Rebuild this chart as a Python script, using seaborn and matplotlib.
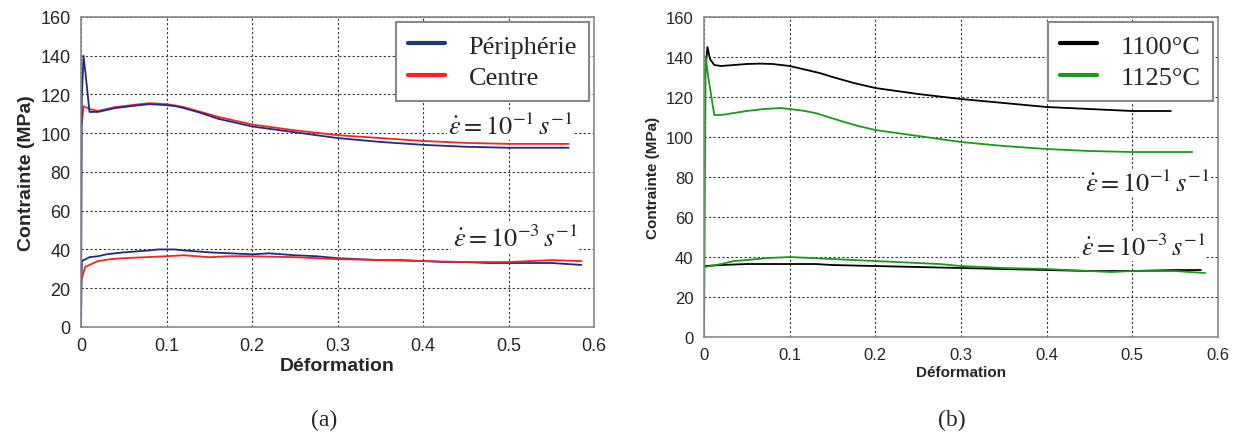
import numpy as np
import pandas as pd
import matplotlib
matplotlib.use("Agg")
import matplotlib.pyplot as plt
from matplotlib.lines import Line2D
import seaborn as sns

# panel (a) : Périphérie / Centre
a_peri_fast_x = [0.0, 0.001, 0.003, 0.006, 0.01, 0.02, 0.03, 0.04, 0.05, 0.065, 0.08, 0.1, 0.11, 0.12, 0.14, 0.16, 0.18, 0.2, 0.225, 0.25, 0.3, 0.35, 0.4, 0.45, 0.5, 0.57]
a_peri_fast_y = [0, 118, 140, 128, 111, 111, 112, 113, 113.5, 114.3, 115, 114.5, 114, 113, 110.5, 107.5, 105.5, 103.5, 102, 100.5, 97.5, 95.5, 94, 93, 92.5, 92.5]
a_cent_fast_x = [0.001, 0.003, 0.01, 0.02, 0.03, 0.04, 0.05, 0.065, 0.08, 0.1, 0.11, 0.12, 0.14, 0.16, 0.18, 0.2, 0.225, 0.25, 0.3, 0.35, 0.4, 0.45, 0.5, 0.57]
a_cent_fast_y = [105, 114, 112.5, 111.5, 112.5, 113.5, 114, 114.8, 115.5, 115, 114.3, 113.5, 111, 108.5, 106.5, 104.5, 103, 101.5, 99, 97.5, 96, 95, 94.5, 94.5]
a_peri_slow_x = [0.0, 0.001, 0.01, 0.02, 0.03, 0.04, 0.05, 0.065, 0.08, 0.09, 0.1, 0.11, 0.12, 0.135, 0.15, 0.175, 0.2, 0.22, 0.25, 0.275, 0.3, 0.325, 0.35, 0.375, 0.4, 0.425, 0.45, 0.475, 0.5, 0.525, 0.55, 0.585]
a_peri_slow_y = [0, 34, 36, 36.5, 37.5, 38, 38.5, 39, 39.5, 40, 40, 40, 39.5, 39, 38.5, 38, 37.5, 38, 37, 36.5, 35.5, 35, 34.5, 34.5, 34, 33.5, 33.5, 33, 33, 33, 33, 32]
a_cent_slow_x = [0.001, 0.005, 0.02, 0.035, 0.05, 0.075, 0.1, 0.12, 0.15, 0.175, 0.2, 0.25, 0.3, 0.35, 0.4, 0.45, 0.5, 0.55, 0.585]
a_cent_slow_y = [25, 31, 34, 35, 35.5, 36, 36.5, 37, 36, 36.5, 36.5, 36, 35, 34.5, 34, 33.5, 33.5, 34.5, 34]

# panel (b) : 1100°C / 1125°C
b_1100_fast_x = [0.001, 0.004, 0.007, 0.012, 0.02, 0.035, 0.05, 0.065, 0.08, 0.1, 0.11, 0.12, 0.135, 0.15, 0.175, 0.2, 0.225, 0.25, 0.3, 0.35, 0.4, 0.45, 0.5, 0.545]
b_1100_fast_y = [130, 145, 139, 136, 135.5, 136, 136.5, 136.7, 136.5, 135.5, 134.5, 133.5, 132, 130, 127, 124.5, 123, 121.5, 119, 117, 115, 114, 113, 113]
b_1125_fast_x = [0.0, 0.002, 0.005, 0.012, 0.02, 0.035, 0.05, 0.07, 0.09, 0.1, 0.115, 0.13, 0.16, 0.18, 0.2, 0.225, 0.25, 0.3, 0.35, 0.4, 0.45, 0.5, 0.57]
b_1125_fast_y = [0, 140, 130, 111, 111, 112, 113, 114, 114.5, 114, 113.2, 112, 108, 105.5, 103.5, 102, 100.5, 97.5, 95.5, 94, 93, 92.5, 92.5]
b_1100_slow_x = [0.001, 0.02, 0.05, 0.1, 0.13, 0.15, 0.2, 0.25, 0.3, 0.35, 0.4, 0.45, 0.5, 0.55, 0.58]
b_1100_slow_y = [35.5, 36, 36.5, 36.5, 36.5, 36, 35.5, 35, 34.5, 34, 33.5, 33, 33, 33.5, 33.5]
b_1125_slow_x = [0.001, 0.02, 0.035, 0.05, 0.075, 0.1, 0.125, 0.15, 0.175, 0.2, 0.225, 0.25, 0.275, 0.3, 0.35, 0.4, 0.45, 0.475, 0.5, 0.55, 0.585]
b_1125_slow_y = [35, 36.5, 38, 38.5, 39.5, 40, 39.5, 39, 38.5, 38, 37.5, 37, 36.5, 35.5, 34.5, 34, 33, 32.5, 33, 33, 32]

xticks = [0, 0.1, 0.2, 0.3, 0.4, 0.5, 0.6]
yticks = [0, 20, 40, 60, 80, 100, 120, 140, 160]

navy = "#1c2a8a"
red = "#ff2020"
black = "#000000"
green = "#1a9a1a"

sns.set_style("white")
plt.rcParams['font.family'] = ['Liberation Sans', 'DejaVu Sans']
plt.rcParams['mathtext.fontset'] = 'stix'

fig = plt.figure(figsize=(12.34, 4.39), dpi=100)
ax1 = fig.add_axes([0.0656, 0.253, 0.416, 0.706])
ax2 = fig.add_axes([0.5705, 0.230, 0.4165, 0.729])


def curve(ax, xs, ys, color):
    df = pd.DataFrame({"x": xs, "y": ys})
    sns.lineplot(data=df, x="x", y="y", ax=ax, color=color, lw=1.3,
                 estimator=None, sort=False)


curve(ax1, a_peri_slow_x, a_peri_slow_y, navy)
curve(ax1, a_cent_slow_x, a_cent_slow_y, red)
curve(ax1, a_cent_fast_x, a_cent_fast_y, red)
curve(ax1, a_peri_fast_x, a_peri_fast_y, navy)

curve(ax2, b_1100_slow_x, b_1100_slow_y, black)
curve(ax2, b_1125_slow_x, b_1125_slow_y, green)
curve(ax2, b_1100_fast_x, b_1100_fast_y, black)
curve(ax2, b_1125_fast_x, b_1125_fast_y, green)

rate1 = r"$\dot{\varepsilon} = 10^{-1}\,s^{-1}$"
rate3 = r"$\dot{\varepsilon} = 10^{-3}\,s^{-1}$"

for ax, tsize, lsize in [(ax1, 13, 14), (ax2, 12, 11)]:
    ax.set_xlim(0, 0.6)
    ax.set_ylim(0, 160)
    ax.set_xticks(xticks)
    ax.set_xticklabels(["0", "0.1", "0.2", "0.3", "0.4", "0.5", "0.6"])
    ax.set_yticks(yticks)
    ax.tick_params(labelsize=tsize, length=4, direction="out", color="#555555")
    ax.grid(True, ls=(0, (2, 2)), color="#333333", lw=0.8)
    for s in ax.spines.values():
        s.set_color("#888888")
        s.set_linewidth(1.2)
    ax.set_xlabel("Déformation", fontsize=lsize, fontweight="bold", labelpad=2)
    ax.set_ylabel("Contrainte (MPa)", fontsize=lsize, fontweight="bold")

bbox = dict(facecolor="white", edgecolor="none", pad=1)
ax1.text(0.575, 104, rate1, fontsize=19, ha="right", va="center", bbox=bbox)
ax1.text(0.58, 46, rate3, fontsize=19, ha="right", va="center", bbox=bbox)
ax2.text(0.59, 77, rate1, fontsize=19, ha="right", va="center", bbox=bbox)
ax2.text(0.585, 45, rate3, fontsize=19, ha="right", va="center", bbox=bbox)

leg_a = [Line2D([], [], color="#1f3a6e", lw=3), Line2D([], [], color=red, lw=3)]
leg_b = [Line2D([], [], color=black, lw=3), Line2D([], [], color=green, lw=3)]
for ax, handles, labels in [(ax1, leg_a, ["Périphérie", "Centre"]),
                            (ax2, leg_b, ["1100°C", "1125°C"])]:
    lg = ax.legend(handles, labels, loc="upper right", fancybox=False,
                   prop={"family": "Liberation Serif", "size": 19},
                   handlelength=1.4, handletextpad=0.9, borderpad=0.45,
                   labelspacing=0.3, borderaxespad=0.2, framealpha=1)
    lg.get_frame().set_edgecolor("#888888")
    lg.get_frame().set_linewidth(1.5)

fig.text(0.263, 0.03, "(a)", fontsize=17, family="Liberation Serif", ha="center")
fig.text(0.771, 0.03, "(b)", fontsize=17, family="Liberation Serif", ha="center")

fig.savefig("out.png", dpi=100)
